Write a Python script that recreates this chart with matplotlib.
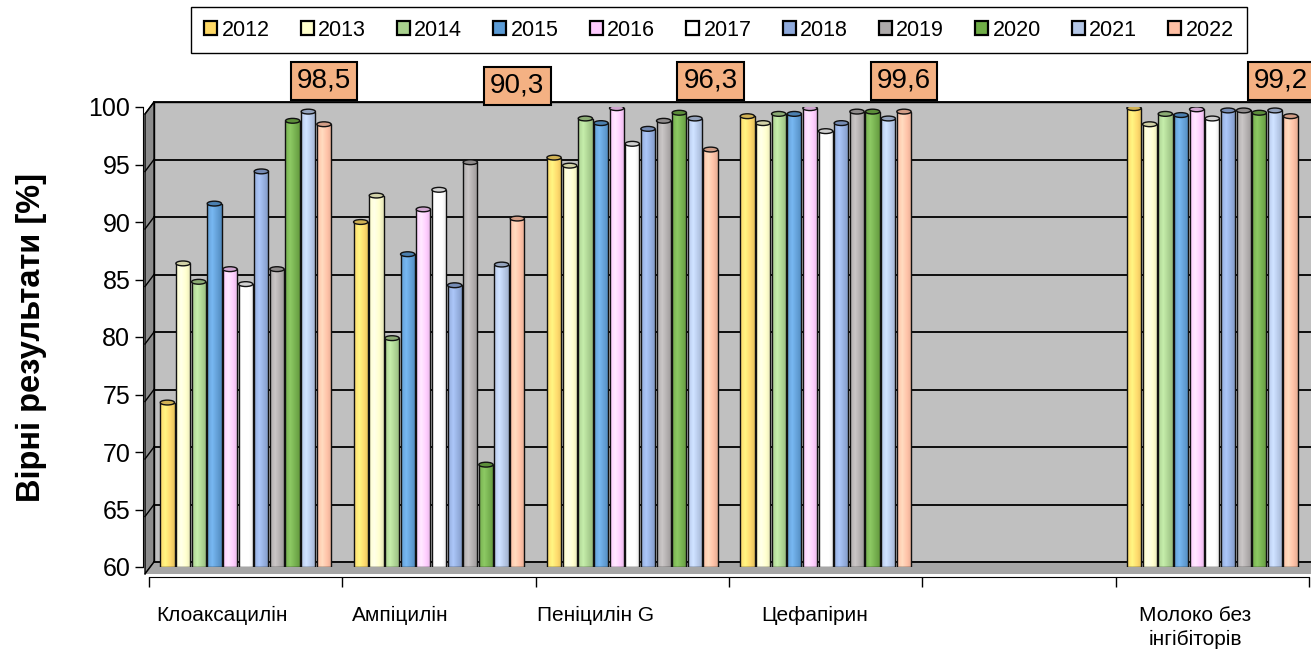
import numpy as np
import matplotlib.pyplot as plt
from matplotlib.patches import Rectangle, Polygon, Ellipse, Patch
from matplotlib.transforms import blended_transform_factory
from matplotlib.colors import to_rgb

plt.rcParams['font.family'] = ['Liberation Sans', 'DejaVu Sans']

# categories ('' = empty slot in the original chart)
kategorii = ['Клоаксацилін', 'Ампіцилін', 'Пеніцилін G', 'Цефапірин', '', 'Молоко без\nінгібіторів']
roky = ['2012', '2013', '2014', '2015', '2016', '2017', '2018', '2019', '2020', '2021', '2022']

# correct results, % (one list per year, order as kategorii)
v2012 = [74.3, 90.0, 95.6, 99.2, np.nan, 99.9]
v2013 = [86.4, 92.3, 94.9, 98.6, np.nan, 98.5]
v2014 = [84.8, 79.9, 99.0, 99.4, np.nan, 99.4]
v2015 = [91.6, 87.2, 98.6, 99.4, np.nan, 99.3]
v2016 = [85.9, 91.1, 99.9, 99.9, np.nan, 99.8]
v2017 = [84.6, 92.8, 96.8, 97.9, np.nan, 99.0]
v2018 = [94.4, 84.5, 98.1, 98.6, np.nan, 99.7]
v2019 = [85.9, 95.2, 98.8, 99.6, np.nan, 99.7]
v2020 = [98.8, 68.9, 99.5, 99.6, np.nan, 99.5]
v2021 = [99.6, 86.3, 99.0, 99.0, np.nan, 99.7]
v2022 = [98.5, 90.3, 96.3, 99.6, np.nan, 99.2]

dani = [v2012, v2013, v2014, v2015, v2016, v2017, v2018, v2019, v2020, v2021, v2022]

kolory = ['#FFD966', '#FFFFCC', '#A9D18E', '#5B9BD5', '#FFCCFF', '#FFFFFF',
          '#8FAADC', '#AEAAAA', '#70AD47', '#B4C7E7', '#FFBFA3']

fig = plt.figure(figsize=(13.11, 6.5), dpi=100)
ax = fig.add_axes([149 / 1311, 83 / 650, 1160 / 1311, 460 / 650])
ax.set_xlim(-0.5, 5.5)
ax.set_ylim(60, 100)

px_x = 1160 / 6.0
px_y = 460 / 40.0
bx, by = 5 / px_x, 5 / px_y      # back wall shift
fx, fy = -4 / px_x, -7 / px_y    # front shift

# back wall, side wall, floor
ax.add_patch(Rectangle((-0.5 + bx, 60 + by), 6.5, 40, fc='#C0C0C0', ec='black', lw=1,
                       zorder=0, clip_on=False))
ax.add_patch(Polygon([(-0.5 + fx, 60 + fy), (-0.5 + fx, 100 + fy), (-0.5 + bx, 100 + by),
                      (-0.5 + bx, 60 + by)], closed=True, fc='#8C8C8C', ec='black', lw=1,
                     zorder=0.5, clip_on=False))
ax.add_patch(Polygon([(-0.5 + fx, 60 + fy), (6.0, 60 + fy), (6.0, 60 + by),
                      (-0.5 + bx, 60 + by)], closed=True, fc='#A6A6A6', ec='none',
                     zorder=0.5, clip_on=False))
for g in range(60, 101, 5):
    ax.plot([-0.5 + bx, 6.0], [g + by, g + by], color='black', lw=1.3, zorder=1, clip_on=False)
    ax.plot([-0.5 + fx, -0.5 + bx], [g + fy, g + by], color='black', lw=1.0, zorder=1, clip_on=False)

# cylinders
n = len(roky)
krok = 0.081
w = 0.074
profil = np.linspace(0, 1, 24)
svitlo = 0.55 + 0.45 * np.clip(1 - np.abs(profil - 0.35) / 0.65, 0, 1)
for j, (vals, kol) in enumerate(zip(dani, kolory)):
    rgb = np.array(to_rgb(kol))
    for i, v in enumerate(vals):
        if np.isnan(v):
            continue
        x = i - n * krok / 2 + (j + 0.5) * krok
        img = np.clip(rgb[None, None, :] * (0.78 + 0.22 * svitlo[None, :, None])
                      + 0.25 * (svitlo[None, :, None] - 0.55), 0, 1)
        ax.imshow(img, extent=[x - w / 2, x + w / 2, 60, v], aspect='auto',
                  zorder=3, interpolation='bilinear')
        ax.add_patch(Rectangle((x - w / 2, 60), w, v - 60, fill=False, ec='#111111',
                               lw=1.0, zorder=4))
        ax.add_patch(Ellipse((x, v), w, 0.42, fc=rgb * 0.82, ec='#111111', lw=1.0, zorder=5))

ax.set_xlim(-0.5, 5.5)
ax.set_ylim(60, 100)
ax.set_facecolor('none')

# axes
for s in ['top', 'right']:
    ax.spines[s].set_visible(False)
ax.spines['left'].set_position(('outward', 4))
ax.spines['bottom'].set_position(('outward', 7))
ax.spines['bottom'].set_bounds(-0.5, 5.5)
ax.set_yticks(range(60, 101, 5))
ax.tick_params(axis='y', labelsize=18, length=6, width=1)
ax.set_xticks(np.arange(-0.5, 5.6, 1))
ax.set_xticklabels([])
ax.tick_params(axis='x', length=7, width=1)

trans = blended_transform_factory(ax.transData, ax.transAxes)
zsuv = [-0.12, -0.2, -0.19, -0.055, 0, -0.09]
for i, k in enumerate(kategorii):
    for li, ryadok in enumerate(k.split('\n')):
        if ryadok:
            ax.text(i + zsuv[i], -0.117 - li * 0.052, ryadok, transform=trans,
                    ha='center', va='baseline', fontsize=15)

ax.set_ylabel('Вірні результати [%]', fontsize=23.5, fontweight='bold')
ax.yaxis.set_label_coords(-0.088, 0.5)

# 2022 labels
x22 = (n - 0.5) * krok - n * krok / 2
for i, v in enumerate(v2022):
    if np.isnan(v):
        continue
    ypos = 1.046 if i == 1 else 1.057
    dx = -0.05 if i == len(v2022) - 1 else 0
    ax.text(i + x22 + dx, ypos, f'{v:.1f}'.replace('.', ','), transform=trans, ha='center',
            va='center', fontsize=20, clip_on=False, zorder=6,
            bbox=dict(boxstyle='square,pad=0.22', fc='#F4B183', ec='black', lw=1.5))

ruchky = [Patch(fc=k, ec='black', lw=1.6) for k in kolory]
leg = fig.legend(ruchky, roky, ncol=11, loc='center', bbox_to_anchor=(719 / 1311, 1 - 30 / 650),
                 fontsize=15.5, fancybox=False, edgecolor='black', framealpha=1,
                 handlelength=0.6, handleheight=0.6, handletextpad=0.2,
                 columnspacing=1.45, borderpad=0.6)
leg.get_frame().set_linewidth(1)

fig.savefig('out.png', dpi=100)
